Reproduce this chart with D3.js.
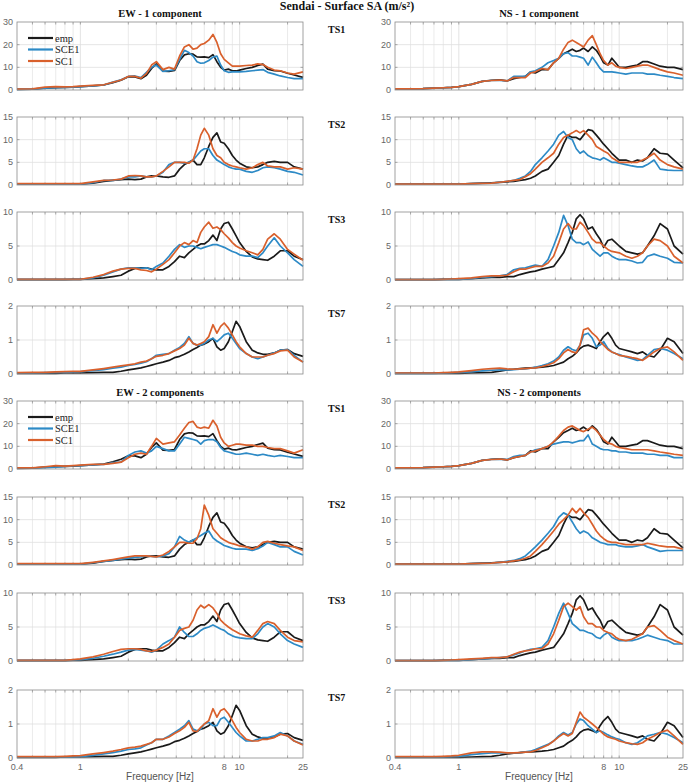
<!DOCTYPE html>
<html><head><meta charset="utf-8">
<script src="https://cdn.jsdelivr.net/npm/d3@7"></script>
<style>body{margin:0;background:#fff}svg{display:block}</style>
</head><body><svg id="c" width="692" height="783"></svg>
<script>
// ---------- data ----------
const freq = [0.4,0.5,0.6,0.7,0.8,0.9,1.0,1.2,1.4,1.6, 1.8,2.0,2.2,2.4,2.6,2.8,3.0,3.3,3.6,3.9, 4.2,4.5,4.8,5.1,5.4,5.7,6.0,6.4,6.8,7.2, 7.6,8.0,8.5,9.0,9.5,10,11,12,13,14, 15,16.5,18,20,22,25];
const seriesNames = ["emp","SCE1","SC1"];
const tsNames = ["TS1","TS2","TS3","TS7"];
const yMaxes = [30,15,10,2];
const yTickVals = [[0,10,20,30],[0,5,10,15],[0,5,10],[0,1,2]];
const xTickVals = [0.4,1,8,10,25];
const xTickLabels = ["0.4","1","8","10","25"];
const xMinorVals = [0.5,0.6,0.7,0.8,0.9,2,3,4,5,6,7,9,20];
const blockTitles = [["EW - 1 component","NS - 1 component"],["EW - 2 components","NS - 2 components"]];

// empirical (same in both blocks)
const EMP_EW_TS1 = [0.3,0.4,0.8,1.0,1.2,1.3,1.5,1.8,2.2,3.2, 4.3,5.8,5.8,5.0,6.5,9.5,11.5,8.3,8.2,8.6, 13.0,15.5,16.0,15.8,14.6,14.5,14.6,14.3,15.6,12.5, 10.0,8.8,9.2,8.5,8.4,8.8,9.5,10.0,10.8,11.4, 9.2,8.5,8.4,7.4,6.6,5.6];
const EMP_EW_TS2 = [0.2,0.2,0.2,0.2,0.2,0.2,0.2,0.4,0.8,1.0, 1.2,1.3,1.2,1.3,1.8,2.0,2.0,1.8,1.7,2.0, 3.5,4.5,5.0,5.5,4.5,4.5,6.0,8.5,10.5,11.5, 9.5,9.2,8.0,6.5,5.5,4.8,4.0,3.8,4.0,4.5, 5.0,5.2,5.0,5.0,4.0,3.5];
const EMP_EW_TS3 = [0.05,0.05,0.05,0.05,0.05,0.08,0.1,0.2,0.3,0.5, 0.7,1.3,1.7,1.8,1.8,1.6,1.5,1.5,2.0,2.7, 3.5,3.3,4.0,4.5,5.0,5.3,5.3,5.8,6.6,5.8, 7.5,8.3,8.5,7.5,6.5,5.5,4.2,3.4,3.1,3.0, 2.9,3.5,4.3,4.3,3.5,3.0];
const EMP_EW_TS7 = [0.02,0.02,0.02,0.02,0.03,0.03,0.03,0.04,0.05,0.05, 0.08,0.12,0.15,0.18,0.22,0.26,0.3,0.35,0.4,0.48, 0.52,0.58,0.65,0.72,0.78,0.85,0.88,0.95,1.05,0.8, 0.7,0.75,0.95,1.25,1.55,1.4,0.95,0.7,0.62,0.58, 0.58,0.62,0.7,0.72,0.6,0.52];
const EMP_NS_TS1 = [0.5,0.5,0.6,0.8,1.0,1.2,1.5,2.5,3.8,4.3, 4.5,4.0,5.0,5.5,6.0,8.0,7.5,9.0,9.0,12.0, 14.0,16.0,17.0,18.0,17.0,17.5,18.5,17.0,19.0,17.5, 15.0,12.0,11.0,14.0,12.0,10.0,10.0,10.5,11.0,12.5, 12.5,11.5,10.5,10.0,10.0,9.0];
const EMP_NS_TS2 = [0.2,0.2,0.2,0.2,0.2,0.2,0.2,0.3,0.4,0.5, 0.6,0.7,0.8,1.0,1.2,1.5,2.0,3.0,3.5,5.0, 6.5,9.0,11.0,10.5,10.5,10.0,11.0,12.2,12.0,11.0, 10.0,9.0,8.0,7.0,6.2,5.5,5.5,5.0,5.5,5.3, 6.0,8.0,7.0,6.8,5.5,3.8];
const EMP_NS_TS3 = [0.05,0.05,0.05,0.05,0.08,0.1,0.1,0.2,0.3,0.4, 0.4,0.5,0.5,0.8,1.0,1.2,1.3,1.6,1.8,2.0, 3.0,4.0,5.5,7.0,9.0,9.6,9.0,7.5,7.8,6.8, 6.0,4.8,5.8,6.0,5.5,5.0,4.2,4.0,3.8,4.0, 5.0,6.5,8.3,7.5,5.0,3.8];
const EMP_NS_TS7 = [0.02,0.02,0.02,0.02,0.02,0.02,0.02,0.03,0.04,0.05, 0.08,0.12,0.14,0.16,0.17,0.18,0.19,0.2,0.22,0.25, 0.3,0.35,0.45,0.52,0.62,0.75,0.82,0.85,0.8,0.75, 0.95,1.1,1.22,1.05,0.85,0.75,0.7,0.65,0.6,0.65, 0.55,0.5,0.7,1.05,0.95,0.6];

// 1 component simulations
const SCE1_EW1_TS1 = [0.3,0.4,0.8,1.0,1.2,1.3,1.5,1.8,2.2,3.5, 4.5,6.0,6.2,5.5,7.8,10.0,11.0,8.2,8.5,9.0, 13.5,17.5,16.5,15.0,12.5,11.8,12.0,13.0,14.5,15.0, 11.0,8.5,7.8,8.0,8.0,8.0,8.2,8.5,8.8,9.0, 7.8,7.0,6.2,5.5,5.0,5.0];
const SC1_EW1_TS1 = [0.4,0.5,1.3,1.5,1.4,1.5,1.7,2.0,2.3,3.4, 4.4,6.0,6.0,5.2,7.2,11.0,12.5,9.0,10.0,9.2, 15.0,19.0,20.0,18.0,18.5,20.0,20.5,22.0,24.5,21.0, 16.0,13.5,12.0,10.5,10.5,10.5,10.8,11.0,11.5,11.2, 10.0,8.8,8.5,7.5,7.0,8.0];
const SCE1_NS1_TS1 = [0.5,0.5,0.6,0.8,1.0,1.2,1.5,2.5,3.8,4.2, 4.2,4.0,6.0,6.0,6.0,8.0,8.5,10.0,12.0,13.0, 14.0,16.0,16.5,15.0,15.0,14.5,14.0,11.0,14.5,12.0, 9.5,8.0,8.0,8.0,7.8,7.5,7.0,7.5,7.5,7.5, 7.0,7.0,6.5,6.0,5.5,5.0];
const SC1_NS1_TS1 = [0.5,0.5,0.6,0.8,1.0,1.2,1.5,2.5,3.8,4.2, 4.4,4.0,5.5,5.5,5.5,7.5,8.0,9.5,9.0,12.0, 14.0,18.0,21.0,22.0,21.0,20.0,19.0,22.0,24.0,20.0, 16.0,13.0,11.0,12.0,10.5,10.0,9.5,10.0,10.5,11.0, 11.0,10.0,9.0,8.0,7.5,6.5];
const SCE1_EW1_TS2 = [0.2,0.2,0.2,0.2,0.2,0.2,0.2,0.5,1.0,1.0, 1.3,1.8,1.8,2.0,1.8,1.8,2.0,2.8,4.5,5.0, 5.0,4.8,5.0,5.5,6.5,7.5,8.0,8.0,6.5,5.5, 5.0,4.5,4.0,3.7,3.5,3.5,3.0,2.8,3.2,3.8, 4.0,3.8,3.5,3.0,2.8,2.2];
const SC1_EW1_TS2 = [0.3,0.3,0.3,0.3,0.3,0.3,0.3,0.7,1.0,1.1, 1.3,2.0,2.1,2.0,1.8,1.8,2.0,3.0,4.0,5.0, 5.0,5.0,4.8,5.5,8.0,11.0,12.5,11.0,8.0,6.5, 6.0,5.0,4.5,4.2,4.0,3.8,3.5,3.8,4.5,5.0, 4.2,4.0,4.0,3.5,3.8,3.5];
const SCE1_NS1_TS2 = [0.2,0.2,0.2,0.2,0.2,0.2,0.2,0.3,0.35,0.4, 0.6,0.8,1.0,1.5,2.0,3.0,4.5,6.0,7.5,9.0, 11.0,11.8,10.5,10.0,8.0,7.0,7.5,6.5,6.0,5.8, 5.5,6.0,5.5,5.0,5.0,4.8,4.5,4.2,4.0,4.0, 4.5,5.5,3.5,3.3,3.2,3.2];
const SC1_NS1_TS2 = [0.2,0.2,0.2,0.2,0.2,0.2,0.2,0.3,0.35,0.4, 0.6,0.8,1.0,1.2,1.8,2.5,3.5,5.0,6.0,7.0, 9.0,10.5,11.0,11.5,12.0,11.5,12.0,11.0,10.0,8.5, 8.0,7.5,7.0,6.0,5.5,5.0,5.0,5.0,5.0,5.5, 6.0,7.0,5.5,4.5,4.0,3.5];
const SCE1_EW1_TS3 = [0.1,0.1,0.1,0.1,0.1,0.1,0.1,0.3,0.7,1.2, 1.6,1.8,1.8,1.7,1.8,1.5,2.0,2.5,3.5,4.5, 5.2,4.8,5.0,5.0,4.8,4.6,4.8,5.0,5.2,5.2, 5.0,4.8,4.5,4.2,4.0,3.7,3.5,3.5,3.3,4.0, 5.0,6.2,5.0,4.0,3.0,2.0];
const SC1_EW1_TS3 = [0.1,0.1,0.1,0.1,0.1,0.1,0.1,0.4,0.8,1.3, 1.6,1.7,1.7,1.5,1.4,1.2,1.6,2.3,3.0,4.0, 5.0,5.5,5.2,5.8,5.5,7.0,7.8,8.5,7.6,7.8, 7.4,6.8,6.2,5.5,5.0,4.7,4.3,4.0,3.7,4.5, 6.0,6.8,6.0,4.5,3.8,2.9];
const SCE1_NS1_TS3 = [0.05,0.05,0.05,0.05,0.08,0.1,0.1,0.2,0.4,0.5, 0.6,0.8,1.5,1.7,1.8,2.0,2.2,2.0,3.0,5.0, 7.0,9.5,8.0,6.0,5.5,5.5,5.2,5.6,4.5,4.0, 3.5,4.0,4.0,3.5,3.2,3.0,3.0,2.8,2.5,2.6, 3.5,3.8,3.5,3.2,2.6,2.5];
const SC1_NS1_TS3 = [0.05,0.05,0.05,0.05,0.1,0.15,0.2,0.3,0.5,0.6, 0.6,0.7,1.2,1.6,1.6,1.8,2.0,2.0,2.5,3.5, 5.5,7.5,8.3,7.5,7.5,8.5,8.0,7.0,6.0,5.5, 5.5,5.0,4.5,4.2,4.1,4.0,3.5,3.2,3.5,4.0, 5.0,6.0,5.8,5.0,3.5,2.5];
const SCE1_EW1_TS7 = [0.03,0.03,0.04,0.05,0.05,0.06,0.07,0.1,0.13,0.17, 0.2,0.25,0.28,0.32,0.36,0.45,0.55,0.58,0.6,0.7, 0.78,0.9,1.1,0.9,0.85,0.85,0.9,1.0,1.05,0.95, 1.05,1.15,1.2,1.05,0.9,0.75,0.6,0.5,0.45,0.5, 0.55,0.62,0.7,0.72,0.55,0.35];
const SC1_EW1_TS7 = [0.04,0.05,0.05,0.06,0.07,0.08,0.08,0.12,0.16,0.2, 0.24,0.27,0.3,0.35,0.38,0.45,0.52,0.55,0.6,0.68, 0.75,0.85,1.05,0.9,0.85,0.9,0.95,1.1,1.45,1.2, 1.4,1.5,1.35,1.15,0.95,0.8,0.6,0.5,0.5,0.5, 0.55,0.6,0.68,0.7,0.5,0.35];
const SCE1_NS1_TS7 = [0.02,0.02,0.02,0.02,0.03,0.04,0.05,0.07,0.09,0.11, 0.12,0.12,0.13,0.14,0.15,0.17,0.2,0.25,0.3,0.38, 0.5,0.7,0.8,0.72,0.68,0.85,1.15,1.2,1.05,0.8, 0.85,0.95,0.75,0.65,0.6,0.57,0.5,0.45,0.4,0.42, 0.55,0.72,0.75,0.7,0.6,0.45];
const SC1_NS1_TS7 = [0.03,0.03,0.03,0.03,0.04,0.05,0.06,0.1,0.14,0.16, 0.17,0.15,0.14,0.15,0.16,0.17,0.18,0.22,0.27,0.33, 0.45,0.62,0.72,0.65,0.62,0.85,1.3,1.35,1.2,1.1, 0.95,0.85,0.72,0.65,0.6,0.55,0.52,0.48,0.45,0.4, 0.5,0.65,0.75,0.8,0.65,0.4];

// 2 components simulations
const SCE1_EW2_TS1 = [0.5,0.5,0.6,0.8,1.2,1.4,1.5,1.8,2.0,2.8, 3.0,6.0,7.5,8.0,7.0,8.0,10.0,9.0,8.0,8.0, 11.0,14.0,13.5,13.0,12.5,11.0,12.5,13.0,13.0,12.0, 9.5,8.0,7.5,7.0,6.5,6.5,7.0,6.5,6.0,6.5, 6.0,5.5,6.0,5.5,5.0,5.0];
const SC1_EW2_TS1 = [0.5,0.5,1.0,1.5,1.3,1.5,1.7,2.0,2.0,2.5, 3.0,5.0,6.5,7.0,6.5,10.0,13.5,11.0,11.5,12.0, 15.0,18.0,20.5,21.0,18.5,18.0,18.5,18.0,21.5,19.0, 14.0,11.5,10.0,10.5,11.0,11.0,10.5,10.5,10.0,10.0, 9.5,9.0,9.0,8.0,7.0,8.5];
const SCE1_NS2_TS1 = [0.5,0.5,0.6,0.8,1.0,1.2,1.5,2.5,3.8,4.2, 4.4,4.2,5.5,6.0,6.0,7.5,8.5,9.0,10.0,11.0, 11.5,12.0,12.0,11.5,12.0,12.5,12.5,15.0,11.0,10.0, 9.0,8.5,8.5,8.0,8.0,7.5,7.5,7.0,7.0,7.0, 6.5,6.5,6.0,6.0,5.0,5.0];
const SC1_NS2_TS1 = [0.5,0.5,0.6,0.8,1.0,1.2,1.5,2.5,3.8,4.2, 4.4,4.0,5.0,5.5,6.0,7.5,8.0,9.0,10.0,12.0, 14.5,17.0,18.5,19.0,18.0,17.0,16.5,17.5,18.5,17.0, 15.0,13.0,11.5,11.0,10.0,9.5,9.0,8.5,8.5,8.5, 8.5,8.0,7.5,7.0,6.5,6.0];
const SCE1_EW2_TS2 = [0.2,0.2,0.2,0.2,0.2,0.2,0.2,0.5,0.8,1.0, 1.3,1.5,1.7,1.8,2.0,1.9,1.8,2.0,2.5,4.0, 6.3,5.5,5.0,5.5,6.0,6.5,7.0,7.5,6.0,5.3, 4.8,4.3,4.0,3.7,3.5,3.5,3.5,3.2,3.6,4.2, 5.0,4.5,4.0,4.0,3.0,2.2];
const SC1_EW2_TS2 = [0.3,0.3,0.3,0.3,0.3,0.3,0.3,0.6,0.9,1.2, 1.5,1.8,2.0,2.0,2.0,1.9,1.8,2.2,3.0,4.0, 5.0,5.0,4.8,4.8,5.8,8.0,13.2,11.0,8.0,7.0, 6.0,5.5,5.0,4.7,4.5,4.2,4.0,3.5,4.0,5.0, 5.2,4.8,4.5,4.2,4.0,3.2];
const SCE1_NS2_TS2 = [0.2,0.2,0.2,0.2,0.2,0.2,0.2,0.3,0.35,0.4, 0.6,0.8,1.0,1.4,2.0,3.0,4.0,5.5,7.0,8.5, 10.5,11.5,11.0,9.5,8.0,7.0,7.5,7.0,6.0,5.5, 5.0,4.8,4.5,4.5,4.5,4.2,4.0,4.0,4.2,4.5, 4.0,3.5,3.0,3.2,3.2,3.2];
const SC1_NS2_TS2 = [0.2,0.2,0.2,0.2,0.2,0.2,0.2,0.3,0.35,0.4, 0.6,0.7,0.9,1.1,1.5,2.0,3.0,4.5,6.0,7.5, 9.0,10.0,11.0,12.5,11.5,12.5,11.5,10.5,9.0,7.5, 6.5,5.8,5.2,5.0,5.0,4.8,4.5,4.5,4.5,4.5, 4.8,4.5,4.2,4.0,4.0,3.5];
const SCE1_EW2_TS3 = [0.1,0.1,0.1,0.1,0.1,0.15,0.2,0.4,0.7,1.0, 1.3,1.6,1.7,1.6,1.5,1.3,1.6,2.5,3.0,3.5, 5.0,4.2,3.6,3.6,4.0,4.5,4.8,5.0,5.3,5.0, 4.7,4.5,4.0,3.7,3.5,3.4,3.3,3.3,4.0,5.0, 5.5,5.0,4.0,3.0,2.5,2.0];
const SC1_EW2_TS3 = [0.1,0.1,0.1,0.1,0.1,0.2,0.3,0.6,1.0,1.4, 1.7,1.8,1.8,1.7,1.5,1.4,1.6,2.0,2.5,3.5, 4.5,4.8,5.0,6.0,7.5,8.2,7.8,8.3,7.8,7.0, 6.0,5.5,5.0,4.6,4.3,4.0,3.7,3.5,4.5,5.5, 5.8,5.5,4.5,3.5,3.0,2.8];
const SCE1_NS2_TS3 = [0.05,0.05,0.05,0.05,0.08,0.1,0.1,0.2,0.3,0.4, 0.5,0.6,0.9,1.2,1.5,1.7,1.8,2.0,3.0,5.0, 7.0,8.5,7.0,5.5,5.0,4.5,4.5,4.2,4.0,3.5, 3.3,3.8,4.2,3.5,3.2,3.0,3.0,3.0,3.2,3.5, 3.8,3.5,3.2,3.0,2.5,2.5];
const SC1_NS2_TS3 = [0.05,0.05,0.05,0.05,0.1,0.15,0.2,0.3,0.4,0.5, 0.5,0.6,1.0,1.3,1.5,1.6,1.8,1.8,2.5,4.0, 6.0,8.0,8.5,8.0,7.5,8.0,6.5,5.5,5.5,5.0, 5.0,4.5,4.2,4.0,3.5,3.2,3.0,3.2,3.6,4.0, 5.0,5.2,4.5,3.5,3.0,2.5];
const SCE1_EW2_TS7 = [0.03,0.03,0.03,0.03,0.03,0.03,0.04,0.08,0.12,0.16, 0.2,0.25,0.27,0.3,0.38,0.45,0.55,0.55,0.65,0.75, 0.85,0.95,1.1,0.85,0.8,0.85,1.0,1.05,0.95,0.95, 1.15,1.2,1.05,0.9,0.75,0.65,0.5,0.5,0.55,0.6, 0.6,0.65,0.75,0.65,0.5,0.4];
const SC1_EW2_TS7 = [0.04,0.04,0.04,0.04,0.05,0.06,0.07,0.12,0.16,0.2, 0.25,0.3,0.32,0.35,0.4,0.45,0.55,0.55,0.62,0.72, 0.8,0.9,1.05,0.8,0.78,0.9,1.0,1.1,1.45,1.2, 1.4,1.45,1.3,1.1,0.9,0.75,0.55,0.5,0.5,0.55, 0.55,0.6,0.7,0.65,0.5,0.38];
const SCE1_NS2_TS7 = [0.03,0.03,0.03,0.03,0.03,0.04,0.05,0.1,0.13,0.15, 0.15,0.15,0.15,0.16,0.18,0.2,0.25,0.33,0.4,0.5, 0.65,0.75,0.68,0.75,1.0,1.15,1.1,0.95,0.85,0.75, 0.8,0.75,0.68,0.62,0.58,0.55,0.45,0.4,0.45,0.55, 0.65,0.7,0.75,0.7,0.6,0.45];
const SC1_NS2_TS7 = [0.04,0.04,0.04,0.04,0.05,0.06,0.08,0.15,0.18,0.18, 0.17,0.15,0.15,0.16,0.17,0.18,0.22,0.3,0.38,0.5, 0.62,0.72,0.65,0.72,1.05,1.35,1.2,1.1,1.0,0.9, 0.8,0.7,0.62,0.58,0.55,0.5,0.45,0.42,0.4,0.45, 0.55,0.65,0.75,0.82,0.65,0.4];

// panel table: [block, column, ts index, emp, SCE1, SC1]
const panels = [
  [0,0,0,EMP_EW_TS1,SCE1_EW1_TS1,SC1_EW1_TS1],[0,1,0,EMP_NS_TS1,SCE1_NS1_TS1,SC1_NS1_TS1],
  [0,0,1,EMP_EW_TS2,SCE1_EW1_TS2,SC1_EW1_TS2],[0,1,1,EMP_NS_TS2,SCE1_NS1_TS2,SC1_NS1_TS2],
  [0,0,2,EMP_EW_TS3,SCE1_EW1_TS3,SC1_EW1_TS3],[0,1,2,EMP_NS_TS3,SCE1_NS1_TS3,SC1_NS1_TS3],
  [0,0,3,EMP_EW_TS7,SCE1_EW1_TS7,SC1_EW1_TS7],[0,1,3,EMP_NS_TS7,SCE1_NS1_TS7,SC1_NS1_TS7],
  [1,0,0,EMP_EW_TS1,SCE1_EW2_TS1,SC1_EW2_TS1],[1,1,0,EMP_NS_TS1,SCE1_NS2_TS1,SC1_NS2_TS1],
  [1,0,1,EMP_EW_TS2,SCE1_EW2_TS2,SC1_EW2_TS2],[1,1,1,EMP_NS_TS2,SCE1_NS2_TS2,SC1_NS2_TS2],
  [1,0,2,EMP_EW_TS3,SCE1_EW2_TS3,SC1_EW2_TS3],[1,1,2,EMP_NS_TS3,SCE1_NS2_TS3,SC1_NS2_TS3],
  [1,0,3,EMP_EW_TS7,SCE1_EW2_TS7,SC1_EW2_TS7],[1,1,3,EMP_NS_TS7,SCE1_NS2_TS7,SC1_NS2_TS7]
];

// ---------- layout / style ----------
const colors = ["#1a1a1a","#2d8ac6","#d9602c"];
const colX = [[17,303],[395,683]];
const rowTop = [22,117,212,306,401,497,593,690];
const rowH = 68;
const serif = "'Liberation Serif','Times New Roman',serif";
const sans = "'Liberation Sans',Arial,sans-serif";

const svg = d3.select("#c");
svg.append("text").attr("x",347).attr("y",10).attr("text-anchor","middle")
  .attr("font-family",serif).attr("font-weight","bold").attr("font-size",12).attr("fill","#111")
  .text("Sendai - Surface SA (m/s²)");

blockTitles.forEach((bt,b)=>{
  bt.forEach((t,c)=>{
    svg.append("text").attr("x",(colX[c][0]+colX[c][1])/2).attr("y",rowTop[b*4]-5)
      .attr("text-anchor","middle").attr("font-family",serif).attr("font-weight","bold")
      .attr("font-size",10.5).attr("fill","#111").text(t);
  });
});

panels.forEach(p=>{
  const [b,c,t,emp,sce1,sc1] = p;
  const row = b*4+t;
  const x0 = colX[c][0], x1 = colX[c][1];
  const top = rowTop[row], bot = top+rowH;
  const x = d3.scaleLog().domain([0.4,25]).range([x0,x1]);
  const y = d3.scaleLinear().domain([0,yMaxes[t]]).range([bot,top]);
  const g = svg.append("g");

  // grid
  g.selectAll(null).data(xMinorVals).join("line")
    .attr("x1",d=>x(d)).attr("x2",d=>x(d)).attr("y1",top).attr("y2",bot)
    .attr("stroke","#e4e4e4").attr("stroke-width",0.8);
  g.selectAll(null).data(xTickVals.slice(1,-1)).join("line")
    .attr("x1",d=>x(d)).attr("x2",d=>x(d)).attr("y1",top).attr("y2",bot)
    .attr("stroke","#dcdcdc").attr("stroke-width",0.8);
  g.selectAll(null).data(yTickVals[t].slice(1,-1)).join("line")
    .attr("x1",x0).attr("x2",x1).attr("y1",d=>y(d)).attr("y2",d=>y(d))
    .attr("stroke","#dedede").attr("stroke-width",0.8);

  // ticks (inward, top/bottom & left/right)
  const allX = xMinorVals.concat(xTickVals.slice(1,-1));
  [top,bot].forEach((yy,i)=>{
    g.selectAll(null).data(allX).join("line")
      .attr("x1",d=>x(d)).attr("x2",d=>x(d))
      .attr("y1",yy).attr("y2",i===0?yy+2.5:yy-2.5)
      .attr("stroke","#8a8a8a").attr("stroke-width",0.7);
  });
  [x0,x1].forEach((xx,i)=>{
    g.selectAll(null).data(yTickVals[t].slice(1,-1)).join("line")
      .attr("x1",xx).attr("x2",i===0?xx+2.5:xx-2.5)
      .attr("y1",d=>y(d)).attr("y2",d=>y(d))
      .attr("stroke","#8a8a8a").attr("stroke-width",0.7);
  });

  // y tick labels
  g.selectAll(null).data(yTickVals[t]).join("text")
    .attr("x",x0-4).attr("y",d=>y(d)).attr("dy","0.35em").attr("text-anchor","end")
    .attr("font-family",sans).attr("font-size",9).attr("fill","#666").text(d=>d);

  // lines
  const line = d3.line().x((d,i)=>x(freq[i])).y(d=>y(d));
  [emp,sce1,sc1].forEach((s,k)=>{
    g.append("path").datum(s).attr("d",line).attr("fill","none")
      .attr("stroke",colors[k]).attr("stroke-width",1.7).attr("stroke-linejoin","round");
  });

  // box
  g.append("rect").attr("x",x0).attr("y",top).attr("width",x1-x0).attr("height",rowH)
    .attr("fill","none").attr("stroke","#8a8a8a").attr("stroke-width",0.8);

  // TS label
  if(c===0){
    svg.append("text").attr("x",328).attr("y",top+11).attr("font-family",serif)
      .attr("font-weight","bold").attr("font-size",10).attr("fill","#111").text(tsNames[t]);
  }

  // legend
  if(c===0 && t===0){
    seriesNames.forEach((n,k)=>{
      const ly = top+16+k*11.5;
      g.append("line").attr("x1",28).attr("x2",53).attr("y1",ly).attr("y2",ly)
        .attr("stroke",colors[k]).attr("stroke-width",2.2);
      g.append("text").attr("x",55).attr("y",ly).attr("dy","0.35em")
        .attr("font-family",serif).attr("font-size",10.5).attr("fill","#222").text(n);
    });
  }

  // x axis labels on bottom row
  if(row===7){
    g.selectAll(null).data(xTickVals).join("text")
      .attr("x",d=>x(d)).attr("y",bot+12).attr("text-anchor","middle")
      .attr("font-family",sans).attr("font-size",9).attr("fill","#666")
      .text((d,i)=>xTickLabels[i]);
    g.append("text").attr("x",(x0+x1)/2).attr("y",bot+22).attr("text-anchor","middle")
      .attr("font-family",sans).attr("font-size",10).attr("fill","#555").text("Frequency [Hz]");
  }
});
</script>
</body></html>
